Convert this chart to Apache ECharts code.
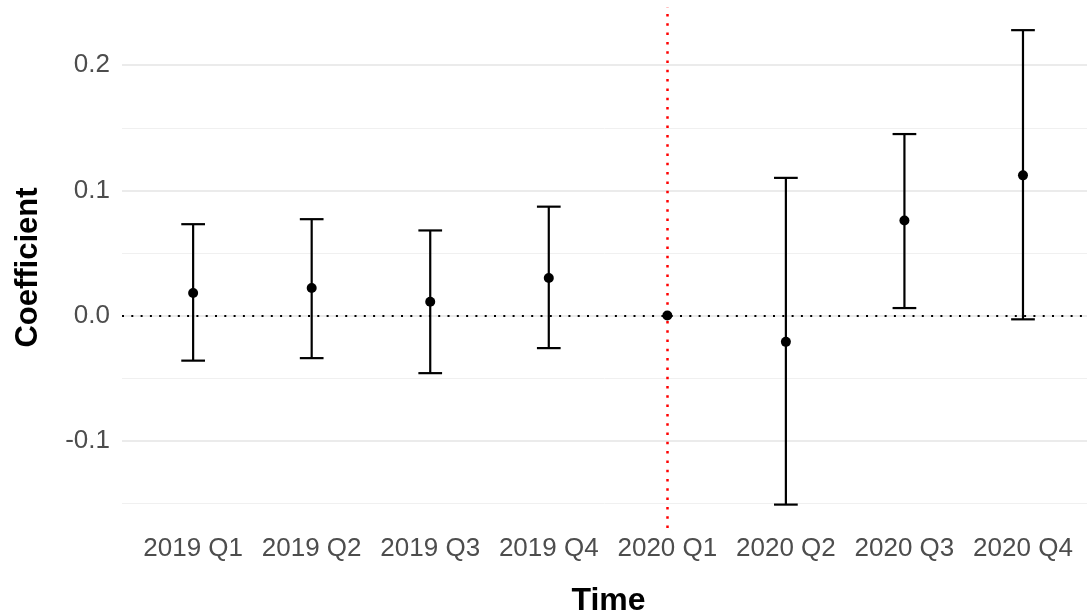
<!DOCTYPE html>
<html>
<head>
<meta charset="utf-8">
<script src="https://cdn.jsdelivr.net/npm/echarts@6/dist/echarts.min.js"></script>
<style>
  html, body { margin: 0; padding: 0; background: #fff; }
  #chart { width: 1087px; height: 613px; }
</style>
</head>
<body>
<div id="chart"></div>
<script>
var categories = ['2019 Q1', '2019 Q2', '2019 Q3', '2019 Q4', '2020 Q1', '2020 Q2', '2020 Q3', '2020 Q4']
var estimates = [0.018, 0.022, 0.011, 0.030, 0, -0.021, 0.076, 0.112]
var ciLow = [-0.036, -0.034, -0.046, -0.026, null, -0.151, 0.006, -0.003]
var ciHigh = [0.073, 0.077, 0.068, 0.087, null, 0.110, 0.145, 0.228]
var yTicks = [-0.1, 0, 0.1, 0.2]
var yMinorTicks = [-0.15, -0.05, 0.05, 0.15]
var eventPeriod = '2020 Q1'

var font = '"Liberation Sans", Arial, Helvetica, sans-serif'
var xPos = categories.map(function(c, i) { return i + 1 })

var pointData = estimates.map(function(v, i) { return [xPos[i], v] })
var barData = []
ciLow.forEach(function(lo, i) {
  if (lo !== null && ciHigh[i] !== null) barData.push([xPos[i], lo, ciHigh[i]])
})

var chart = echarts.init(document.getElementById('chart'), null, { renderer: 'canvas' })

chart.setOption({
  animation: false,
  backgroundColor: '#ffffff',
  grid: { left: 122, right: 0, top: 7, bottom: 85, containLabel: false, outerBoundsMode: 'none' },
  xAxis: {
    type: 'value',
    min: 0.4,
    max: 8.54,
    name: 'Time',
    nameLocation: 'middle',
    nameGap: 57,
    nameTextStyle: { color: '#000', fontSize: 32, fontWeight: 'bold', fontFamily: font, padding: [0, 0, 0, 8] },
    axisLine: { show: false },
    axisTick: { show: false },
    splitLine: { show: false },
    axisLabel: {
      customValues: xPos,
      margin: 8,
      color: '#4d4d4d',
      fontSize: 26,
      fontFamily: font,
      formatter: function(v) { return categories[Math.round(v) - 1] || '' }
    }
  },
  yAxis: {
    type: 'value',
    min: -0.1697,
    max: 0.2465,
    name: 'Coefficient',
    nameLocation: 'middle',
    nameGap: 78,
    nameTextStyle: { color: '#000', fontSize: 31, fontWeight: 'bold', fontFamily: font },
    axisLine: { show: false },
    axisTick: { show: false },
    splitLine: { show: false },
    axisLabel: {
      customValues: yTicks,
      margin: 12,
      color: '#4d4d4d',
      fontSize: 26,
      fontFamily: font,
      formatter: function(v) { return v.toFixed(1) }
    }
  },
  series: [
    {
      // panel grid lines
      type: 'line',
      data: [],
      z: 0,
      silent: true,
      markLine: {
        silent: true,
        symbol: 'none',
        label: { show: false },
        data: yTicks.map(function(v) {
          return { yAxis: v, lineStyle: { color: '#ebebeb', width: 1.8, type: 'solid' } }
        }).concat(yMinorTicks.map(function(v) {
          return { yAxis: v, lineStyle: { color: '#f0f0f0', width: 1, type: 'solid' } }
        }))
      }
    },
    {
      // reference lines
      type: 'line',
      data: [],
      z: 1,
      silent: true,
      markLine: {
        silent: true,
        symbol: 'none',
        label: { show: false },
        data: [
          { yAxis: 0, lineStyle: { color: '#000', width: 2, type: [2, 7.3], cap: 'butt' } },
          { xAxis: xPos[categories.indexOf(eventPeriod)], lineStyle: { color: '#ff0000', width: 2.5, type: [2.5, 6.8], cap: 'butt' } }
        ]
      }
    },
    {
      type: 'custom',
      z: 3,
      zlevel: 1,
      data: barData,
      renderItem: function(params, api) {
        var x = api.value(0)
        var lo = api.coord([x, api.value(1)])
        var hi = api.coord([x, api.value(2)])
        var half = (api.coord([x + 0.1, 0])[0] - api.coord([x, 0])[0])
        var style = { stroke: '#000', lineWidth: 2.2, fill: null }
        return {
          type: 'group',
          children: [
            { type: 'line', shape: { x1: lo[0], y1: lo[1], x2: hi[0], y2: hi[1] }, style: style },
            { type: 'line', shape: { x1: hi[0] - half, y1: hi[1], x2: hi[0] + half, y2: hi[1] }, style: style },
            { type: 'line', shape: { x1: lo[0] - half, y1: lo[1], x2: lo[0] + half, y2: lo[1] }, style: style }
          ]
        }
      }
    },
    {
      type: 'scatter',
      z: 4,
      zlevel: 1,
      data: pointData,
      symbol: 'circle',
      symbolSize: 10,
      itemStyle: { color: '#000', opacity: 1, borderWidth: 0 }
    }
  ]
})
</script>
</body>
</html>
